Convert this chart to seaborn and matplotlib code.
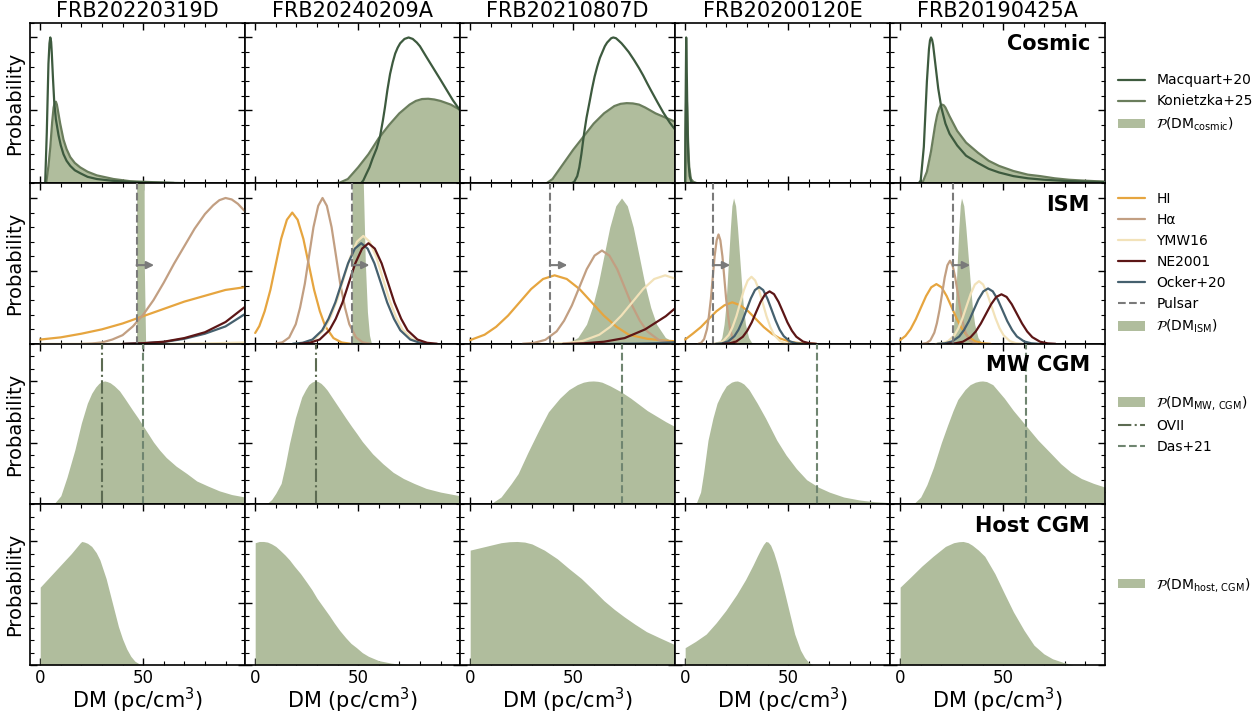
import matplotlib
matplotlib.use("Agg")
import matplotlib.pyplot as plt
import seaborn as sns
from matplotlib.ticker import MultipleLocator
from matplotlib.lines import Line2D
from matplotlib.patches import Patch

# FRB columns
FRBS = ['FRB20220319D', 'FRB20240209A', 'FRB20210807D', 'FRB20200120E', 'FRB20190425A']
ROW_NAMES = ['Cosmic', 'ISM', 'MW CGM', 'Host CGM']

# ---- Cosmic row (Macquart+20 line, Konietzka+25 line + filled P(DM_cosmic)) ----
MAC_X = [
    [2.4, 3.2, 4.0, 4.5, 4.9, 5.3, 5.6, 6.2, 6.8, 7.6, 8.9, 10, 11.3, 12.8, 14.6, 16.8, 19.4, 23, 27.5, 35, 43.7, 55, 70],
    [48, 51.3, 52.5, 53.8, 55.5, 57, 59, 60.6, 62, 63, 64.2, 65.5, 66.8, 68, 69.2, 70.4, 72.5, 74.5, 76.5, 78.5,
     80, 83, 86.5, 90, 93, 96, 99.5],
    [49, 50.5, 52, 53, 54, 55.3, 56.5, 58, 59.2, 60.4, 61.7, 63, 64.2, 65.4, 66.5, 67.5, 68.5, 69.5, 70.8, 72,
     73.5, 75, 77, 79.6, 82, 84, 86, 87.7, 91, 93.8, 97, 100],
    [0, 0.2, 0.5, 0.8, 1.2, 1.6, 2.2, 3, 4],
    [9, 10, 11.5, 13, 14, 14.5, 15, 15.5, 16, 17, 18.5, 20, 22, 24, 27.7, 32, 37.8, 43, 48, 55, 62, 70, 80, 90, 100],
]
MAC_Y = [
    [0, 0.35, 0.82, 0.96, 1.0, 0.97, 0.9, 0.72, 0.56, 0.44, 0.33, 0.26, 0.2, 0.155, 0.12, 0.09, 0.07, 0.045, 0.03, 0.018, 0.01, 0.005, 0.002],
    [0, 0, 0.02, 0.06, 0.11, 0.17, 0.24, 0.32, 0.43, 0.52, 0.64, 0.75, 0.83, 0.89, 0.93, 0.96, 0.99, 1.0, 0.99, 0.965,
     0.94, 0.87, 0.79, 0.71, 0.64, 0.57, 0.5],
    [0, 0.01, 0.05, 0.11, 0.2, 0.34, 0.45, 0.56, 0.65, 0.73, 0.8, 0.86, 0.9, 0.94, 0.965, 0.98, 0.995, 1.0, 0.995, 0.98,
     0.96, 0.935, 0.9, 0.845, 0.79, 0.74, 0.685, 0.64, 0.555, 0.485, 0.415, 0.36],
    [0, 0.5, 1.0, 0.75, 0.35, 0.15, 0.05, 0.01, 0],
    [0, 0.02, 0.25, 0.7, 0.92, 0.98, 1.0, 0.985, 0.95, 0.83, 0.65, 0.52, 0.41, 0.34, 0.26, 0.19, 0.14, 0.1, 0.075, 0.05, 0.035, 0.025, 0.017, 0.012, 0.009],
]
KON_X = [
    [2.9, 4, 4.9, 5.8, 6.5, 7.0, 7.6, 8.1, 8.6, 9.7, 11.3, 12.8, 14.6, 16.8, 19.4, 23, 27.5, 35.6, 43.7, 51.8, 65],
    [38, 41, 45, 50, 55, 60, 65, 70, 75, 78, 81, 84, 87, 90, 95, 100],
    [35, 37, 40, 45, 50, 55, 60, 65, 70, 73, 76, 79, 82, 85, 90, 95, 100],
    [0, 0.2, 0.6, 1, 1.5, 2, 2.8, 4, 6],
    [10, 11, 13, 15, 17, 18, 19, 19.7, 20.4, 21.2, 22, 24, 27.7, 32, 37.8, 43, 48, 55, 62, 68, 75, 82, 88, 95, 100],
]
KON_Y = [
    [0, 0.12, 0.25, 0.42, 0.52, 0.55, 0.56, 0.54, 0.5, 0.41, 0.3, 0.235, 0.18, 0.14, 0.11, 0.08, 0.055, 0.03, 0.015, 0.01, 0.003],
    [0, 0.005, 0.03, 0.11, 0.2, 0.31, 0.4, 0.48, 0.54, 0.565, 0.578, 0.58, 0.575, 0.565, 0.54, 0.5],
    [0, 0, 0.03, 0.13, 0.23, 0.32, 0.41, 0.48, 0.53, 0.545, 0.55, 0.548, 0.54, 0.52, 0.48, 0.45, 0.42],
    [0, 0.35, 0.66, 0.5, 0.25, 0.11, 0.03, 0.01, 0],
    [0, 0.01, 0.08, 0.22, 0.4, 0.47, 0.515, 0.535, 0.54, 0.535, 0.52, 0.46, 0.36, 0.28, 0.21, 0.155, 0.12, 0.085, 0.06, 0.05, 0.035, 0.025, 0.02, 0.015, 0.012],
]

# ---- ISM row ----
HI_X = [
    [0, 10, 20, 30, 40, 50, 60, 70, 80, 90, 100],
    [0, 2, 4.6, 7.4, 10, 12.6, 15.4, 18, 20.6, 23.4, 26, 28.6, 31.4, 34, 38, 42, 46],
    [0, 7, 12.6, 18.4, 24, 29.6, 35.4, 41, 46.9, 53.1, 59, 64.9, 71.1, 77, 86, 95, 100],
    [0, 3.7, 7.6, 11.4, 15.2, 19.1, 22.9, 26.7, 30.6, 34.4, 38.2, 42.1, 45.9, 51.7, 57.4, 63.1],
    [0, 2.6, 5.1, 7.6, 10.1, 12.6, 15.1, 17.6, 20.1, 22.6, 25.1, 27.6, 30.1, 32.6, 36.4, 40.1, 43.9],
]
HI_Y = [
    [0.03, 0.045, 0.07, 0.10, 0.14, 0.19, 0.24, 0.29, 0.33, 0.37, 0.39],
    [0.075, 0.122, 0.224, 0.371, 0.546, 0.72, 0.851, 0.9, 0.851, 0.72, 0.546, 0.371, 0.224, 0.122, 0.04, 0.01, 0.002],
    [0.026, 0.063, 0.117, 0.194, 0.285, 0.376, 0.445, 0.47, 0.445, 0.376, 0.285, 0.194, 0.117, 0.063, 0.035, 0.022, 0.018],
    [0.03, 0.07, 0.115, 0.17, 0.224, 0.265, 0.285, 0.265, 0.224, 0.17, 0.115, 0.07, 0.038, 0.012, 0.003, 0.0006],
    [0.026, 0.055, 0.102, 0.169, 0.249, 0.328, 0.388, 0.41, 0.388, 0.328, 0.249, 0.169, 0.102, 0.055, 0.018, 0.0045, 0.0008],
]
HA_X = [
    [20, 25, 30, 35, 40, 45, 50, 55, 60, 65, 70, 75, 80, 84, 87, 90, 93, 96, 100],
    [9.9, 13.2, 16.5, 19.7, 21.8, 24.1, 26.2, 28.3, 30.6, 32.7, 34.8, 37.1, 39.2, 41.3, 43.6, 45.7, 49, 52.2, 55.5],
    [25.5, 31, 36.5, 42, 45.6, 49.4, 53, 56.6, 60.4, 64, 67.6, 71.4, 75, 78.6, 82.4, 86, 91.5, 97, 100],
    [6.4, 7.8, 9.2, 10.6, 11.5, 12.5, 13.4, 14.3, 15.3, 16.2, 17.1, 18.1, 19, 19.9, 20.9, 21.8, 23.2, 24.6, 26],
    [10.9, 12.8, 14.7, 16.6, 17.85, 19.15, 20.4, 21.65, 22.95, 24.2, 25.45, 26.75, 28, 29.25, 30.55, 31.8, 33.7, 35.6, 37.5],
]
HA_Y = [
    [0, 0.003, 0.01, 0.03, 0.06, 0.12, 0.2, 0.3, 0.42, 0.55, 0.67, 0.79, 0.89, 0.95, 0.985, 1.0, 0.99, 0.96, 0.9],
    [0.002, 0.011, 0.044, 0.135, 0.249, 0.412, 0.607, 0.8, 0.946, 1.0, 0.946, 0.8, 0.607, 0.412, 0.249, 0.135, 0.044, 0.011, 0.002],
    [0.0013, 0.007, 0.028, 0.086, 0.159, 0.264, 0.388, 0.512, 0.605, 0.64, 0.605, 0.512, 0.388, 0.264, 0.159, 0.086, 0.028, 0.007, 0.003],
    [0.0015, 0.008, 0.033, 0.101, 0.187, 0.309, 0.455, 0.6, 0.71, 0.75, 0.71, 0.6, 0.455, 0.309, 0.187, 0.101, 0.033, 0.008, 0.0015],
    [0.0011, 0.006, 0.025, 0.077, 0.142, 0.235, 0.346, 0.456, 0.539, 0.57, 0.539, 0.456, 0.346, 0.235, 0.142, 0.077, 0.025, 0.006, 0.0011],
]
YMW_X = [
    [0, 60, 80, 100],
    [19.3, 24, 28.8, 33.5, 36.6, 39.9, 43, 46.1, 49.4, 52.5, 55.6, 58.9, 62, 65.1, 68.4, 71.5, 76.3, 81, 85.8],
    [38.7, 46.7, 54.7, 62.7, 68, 73.4, 78.7, 84, 89.4, 94.7, 100],
    [13, 15.7, 18.5, 21.2, 23, 24.9, 26.7, 28.5, 30.4, 32.2, 34, 35.9, 37.7, 39.5, 41.4, 43.2, 46, 48.7, 51.5],
    [17.3, 20.3, 23.3, 26.3, 28.3, 30.3, 32.3, 34.3, 36.3, 38.3, 40.3, 42.3, 44.3, 46.3, 48.3, 50.3, 53.3, 56.3, 59.3],
]
YMW_Y = [
    [0, 0, 0.003, 0.01],
    [0.0015, 0.008, 0.033, 0.1, 0.184, 0.305, 0.449, 0.592, 0.7, 0.74, 0.7, 0.592, 0.449, 0.305, 0.184, 0.1, 0.033, 0.008, 0.0015],
    [0.0009, 0.005, 0.021, 0.063, 0.117, 0.194, 0.285, 0.376, 0.445, 0.47, 0.445],
    [0.0009, 0.005, 0.02, 0.062, 0.115, 0.19, 0.279, 0.368, 0.435, 0.46, 0.435, 0.368, 0.279, 0.19, 0.115, 0.062, 0.02, 0.005, 0.0009],
    [0.0009, 0.0047, 0.019, 0.058, 0.107, 0.177, 0.261, 0.344, 0.407, 0.43, 0.407, 0.344, 0.261, 0.177, 0.107, 0.058, 0.019, 0.0047, 0.0009],
]
NE_X = [
    [40, 50, 60, 70, 80, 90, 100],
    [21.8, 26.5, 31.3, 36, 39.1, 42.4, 45.5, 48.6, 51.9, 55, 58.1, 61.4, 64.5, 67.6, 70.9, 74, 78.8, 83.5, 88.3],
    [45, 55, 65, 75, 85, 95, 100],
    [18.25, 21.5, 24.75, 28, 30.14, 32.35, 34.5, 36.64, 38.85, 41, 43.15, 45.36, 47.5, 49.65, 51.86, 54, 57.25, 60.5, 63.75],
    [22.95, 26.7, 30.45, 34.2, 36.7, 39.2, 41.7, 44.2, 46.7, 49.2, 51.7, 54.2, 56.7, 59.2, 61.7, 64.2, 67.95, 71.7, 75.45],
]
NE_Y = [
    [0, 0.005, 0.015, 0.04, 0.08, 0.15, 0.26],
    [0.0014, 0.0076, 0.03, 0.093, 0.172, 0.284, 0.419, 0.552, 0.653, 0.69, 0.653, 0.552, 0.419, 0.284, 0.172, 0.093, 0.03, 0.0076, 0.0014],
    [0, 0.004, 0.015, 0.04, 0.1, 0.19, 0.25],
    [0.0007, 0.004, 0.016, 0.049, 0.09, 0.148, 0.219, 0.288, 0.341, 0.36, 0.341, 0.288, 0.219, 0.148, 0.09, 0.049, 0.016, 0.004, 0.0007],
    [0.0007, 0.0037, 0.015, 0.046, 0.085, 0.14, 0.206, 0.272, 0.322, 0.34, 0.322, 0.272, 0.206, 0.14, 0.085, 0.046, 0.015, 0.0037, 0.0007],
]
OCK_X = [
    [40, 50, 60, 70, 80, 90, 100],
    [18.3, 23, 27.8, 32.5, 35.6, 38.9, 42, 45.1, 48.4, 51.5, 54.6, 57.9, 61, 64.1, 67.4, 70.5, 75.3, 80, 84.8],
    [60, 80, 90, 100],
    [14.9, 17.9, 20.9, 23.9, 25.9, 27.9, 29.9, 31.9, 33.9, 35.9, 37.9, 39.9, 41.9, 43.9, 45.9, 47.9, 50.9, 53.9, 56.9],
    [18.2, 21.7, 25.2, 28.7, 31, 33.4, 35.7, 38, 40.4, 42.7, 45, 47.4, 49.7, 52, 54.4, 56.7, 60.2, 63.7, 67.2],
]
OCK_Y = [
    [0, 0.005, 0.013, 0.035, 0.07, 0.12, 0.21],
    [0.0014, 0.0076, 0.03, 0.093, 0.172, 0.284, 0.419, 0.552, 0.653, 0.69, 0.653, 0.552, 0.419, 0.284, 0.172, 0.093, 0.03, 0.0076, 0.0014],
    [0, 0.002, 0.005, 0.012],
    [0.0008, 0.0043, 0.017, 0.053, 0.097, 0.161, 0.237, 0.312, 0.369, 0.39, 0.369, 0.312, 0.237, 0.161, 0.097, 0.053, 0.017, 0.0043, 0.0008],
    [0.0008, 0.0042, 0.017, 0.051, 0.095, 0.157, 0.231, 0.304, 0.36, 0.38, 0.36, 0.304, 0.231, 0.157, 0.095, 0.051, 0.017, 0.0042, 0.0008],
]
ISMF_X = [
    [46.8, 46.9, 50.0, 50.6, 51.2],
    [47.0, 47.1, 51.5, 52.5, 53.5, 54.5, 55.5, 56.5],
    [43.8, 48, 52.3, 56.5, 59.3, 62.2, 65, 67.8, 70.7, 73.5, 76.3, 79.2, 82, 84.8, 87.7, 90.5, 94.8, 99, 100],
    [15.5, 16.6, 17.8, 18.9, 19.7, 20.4, 21.2, 22, 22.7, 23.5, 24.5, 25.4, 26.4, 27.4, 28.3, 29.3, 30.8, 32.2, 33.7],
    [25.5, 25.6, 26.0, 26.6, 27.3, 27.9, 28.5, 29.2, 29.8, 30.9, 31.9, 33, 34.1, 35.1, 36.2, 37.8, 39.4, 41],
]
ISMF_Y = [
    [0, 3, 3, 0.5, 0],
    [0, 3, 3, 1.1, 0.55, 0.22, 0.06, 0],
    [0.002, 0.011, 0.044, 0.135, 0.249, 0.412, 0.607, 0.8, 0.946, 1.0, 0.946, 0.8, 0.607, 0.412, 0.249, 0.135, 0.044, 0.011, 0.008],
    [0.002, 0.011, 0.044, 0.135, 0.249, 0.412, 0.607, 0.8, 0.946, 1.0, 0.946, 0.8, 0.607, 0.412, 0.249, 0.135, 0.044, 0.011, 0.002],
    [0, 0.078, 0.135, 0.243, 0.42, 0.607, 0.79, 0.95, 1.0, 0.946, 0.8, 0.607, 0.412, 0.249, 0.135, 0.044, 0.011, 0.002],
]
PULSAR = [46.8, 47.0, 38.7, 13.4, 25.5]

# ---- MW CGM row ----
MW_X = [
    [5, 7, 10, 13, 16.8, 20, 22.9, 25, 26.9, 28.5, 30, 31.3, 32.5, 34, 36, 38.5, 41, 45, 47.5, 50,
     52.5, 55, 58, 61.2, 66, 71.2, 76, 81.3, 87, 93, 99.5],
    [4, 5.6, 8, 10, 12.6, 14.5, 16.6, 19.5, 22.6, 24.5, 26, 27.5, 29, 30.5, 32, 33.5, 35, 36.8, 41, 44,
     46.9, 49.5, 52, 57, 62, 67, 72, 77.2, 83, 90, 99.5],
    [8, 10, 15, 20, 23.3, 28, 33.3, 38, 43.5, 48, 52, 55, 57.5, 59.8, 62, 64, 68, 73.5, 78, 82, 86, 90, 95, 99.5],
    [3.5, 5.4, 7.5, 9, 11.1, 13.5, 15.5, 17.8, 20, 22.5, 24, 25.4, 27, 28.5, 31, 35, 39, 44.5, 49, 54,
     59, 64.7, 70, 77, 85, 92, 99.5],
    [4, 6.6, 10, 13, 16.2, 20, 23, 25.7, 28, 31.5, 34, 36.5, 38.5, 40, 42, 45, 50.6, 55, 61, 67,
     73.4, 78, 83, 88, 94, 99.5],
]
MW_Y = [
    [0, 0.01, 0.07, 0.22, 0.44, 0.66, 0.82, 0.9, 0.95, 0.98, 0.995, 1.0, 0.995, 0.985, 0.96, 0.92, 0.86, 0.76, 0.7, 0.635,
     0.57, 0.505, 0.44, 0.38, 0.31, 0.25, 0.19, 0.15, 0.11, 0.08, 0.06],
    [0, 0.005, 0.04, 0.09, 0.17, 0.31, 0.49, 0.7, 0.87, 0.93, 0.97, 0.99, 1.0, 0.995, 0.98, 0.955, 0.925, 0.88, 0.775, 0.7,
     0.63, 0.57, 0.51, 0.41, 0.33, 0.26, 0.21, 0.17, 0.13, 0.1, 0.07],
    [0, 0.005, 0.06, 0.17, 0.25, 0.42, 0.6, 0.75, 0.86, 0.93, 0.97, 0.99, 0.998, 1.0, 0.997, 0.99, 0.96, 0.91, 0.86, 0.81, 0.76, 0.72, 0.67, 0.63],
    [0, 0.01, 0.1, 0.26, 0.52, 0.7, 0.82, 0.9, 0.96, 0.99, 0.998, 1.0, 0.99, 0.975, 0.93, 0.82, 0.7, 0.52, 0.4, 0.29,
     0.2, 0.14, 0.1, 0.06, 0.035, 0.022, 0.015],
    [0, 0.005, 0.06, 0.16, 0.3, 0.5, 0.64, 0.76, 0.85, 0.93, 0.97, 0.99, 0.998, 1.0, 0.995, 0.97, 0.86, 0.76, 0.64, 0.52,
     0.41, 0.33, 0.26, 0.21, 0.17, 0.14],
]
OVII = [30.0, 29.6, None, None, None]
DAS21 = [49.7, None, 73.5, 64.0, 61.0]

# ---- Host CGM row ----
HOST_X = [
    [0, 5, 10, 15, 17, 18.5, 19.5, 20.2, 21.5, 23, 25, 27.2, 29, 30, 32, 34, 36, 38, 40, 42, 44, 46, 48, 50],
    [0, 2, 4, 6, 8, 10, 12, 14.5, 16.7, 19, 22, 25, 27.5, 30, 33, 36, 38.4, 41, 44, 46.5, 49.2, 52, 55, 60, 66, 71, 78],
    [0, 5, 10, 15, 19, 22.8, 26.5, 30, 36, 42.3, 48, 54, 59.6, 65, 70, 74.8, 80, 85.6, 92, 98.6, 100],
    [0, 5, 10.2, 15, 19.7, 25, 29.3, 33, 35, 36.5, 38, 39.2, 40.3, 41.5, 43, 44.5, 46, 48.4, 51, 53.2, 56, 58, 60, 62],
    [0, 5, 10.5, 16, 22, 26, 28.5, 30.6, 33, 35, 38, 41.1, 46, 50.6, 55, 60.2, 65, 69.8, 74, 79.3, 84],
]
HOST_Y = [
    [0.63, 0.72, 0.81, 0.9, 0.94, 0.97, 0.99, 1.0, 0.995, 0.985, 0.96, 0.91, 0.85, 0.8, 0.7, 0.57, 0.44, 0.31, 0.21, 0.13, 0.07, 0.03, 0.01, 0],
    [0.99, 1.0, 1.0, 0.995, 0.98, 0.96, 0.93, 0.89, 0.85, 0.8, 0.74, 0.67, 0.61, 0.54, 0.47, 0.4, 0.34, 0.28, 0.22, 0.175, 0.14, 0.1, 0.07, 0.035, 0.015, 0.005, 0],
    [0.93, 0.95, 0.97, 0.99, 0.998, 1.0, 0.995, 0.98, 0.93, 0.86, 0.78, 0.7, 0.61, 0.52, 0.45, 0.39, 0.33, 0.27, 0.22, 0.17, 0.16],
    [0.14, 0.19, 0.25, 0.34, 0.44, 0.57, 0.69, 0.81, 0.88, 0.93, 0.975, 1.0, 0.995, 0.97, 0.91, 0.83, 0.74, 0.58, 0.4, 0.25, 0.12, 0.06, 0.02, 0],
    [0.63, 0.71, 0.8, 0.88, 0.96, 0.99, 0.998, 1.0, 0.99, 0.97, 0.93, 0.88, 0.74, 0.58, 0.43, 0.28, 0.16, 0.09, 0.05, 0.02, 0],
]

# colours
MAC_C = '#3d5a3e'
KON_C = '#6a7d5c'
FILL_C = '#b0bd9d'
HI_C = '#e6a53f'
HA_C = '#c29f82'
YMW_C = '#f2e2b9'
NE_C = '#5c1616'
OCK_C = '#45606e'
PSR_C = '#7a7a7a'
OVII_C = '#5c6b52'
DAS_C = '#6f8570'

sns.set_style('ticks')
plt.rcParams['font.family'] = ['DejaVu Sans']
plt.rcParams['mathtext.fontset'] = 'dejavusans'
for key in ['text.color', 'axes.labelcolor', 'xtick.color', 'ytick.color']:
    plt.rcParams[key] = 'black'


def draw(ax, x, y, color, ls='-', lw=1.6, z=3):
    sns.lineplot(x=x, y=y, ax=ax, color=color, linestyle=ls, lw=lw,
                 estimator=None, sort=False, legend=False, zorder=z)


fig, axes = plt.subplots(4, 5, figsize=(12.55, 7.15), dpi=100, sharex=True)
fig.subplots_adjust(left=0.024, right=0.8805, top=0.968, bottom=0.07, wspace=0, hspace=0)

YTOP = [1.1, 1.1, 1.3, 1.3]

for c in range(5):
    # cosmic
    ax = axes[0, c]
    ax.fill_between(KON_X[c], KON_Y[c], color=FILL_C, lw=0, zorder=1)
    draw(ax, KON_X[c], KON_Y[c], KON_C, z=2)
    draw(ax, MAC_X[c], MAC_Y[c], MAC_C, z=3)

    # ISM
    ax = axes[1, c]
    ax.fill_between(ISMF_X[c], ISMF_Y[c], color=FILL_C, lw=0, zorder=1)
    draw(ax, HI_X[c], HI_Y[c], HI_C)
    draw(ax, HA_X[c], HA_Y[c], HA_C)
    draw(ax, YMW_X[c], YMW_Y[c], YMW_C)
    draw(ax, OCK_X[c], OCK_Y[c], OCK_C)
    draw(ax, NE_X[c], NE_Y[c], NE_C)
    ax.axvline(PULSAR[c], color=PSR_C, ls='--', lw=1.5, zorder=4)
    ax.annotate('', xy=(PULSAR[c] + 8.5, 0.54), xytext=(PULSAR[c], 0.54),
                arrowprops=dict(arrowstyle='-|>', color=PSR_C, lw=1.5,
                                mutation_scale=11, shrinkA=0, shrinkB=0), zorder=5)

    # MW CGM
    ax = axes[2, c]
    ax.fill_between(MW_X[c], MW_Y[c], color=FILL_C, lw=0, zorder=1)
    if OVII[c] is not None:
        ax.axvline(OVII[c], color=OVII_C, ls='-.', lw=1.5, zorder=3)
    if DAS21[c] is not None:
        ax.axvline(DAS21[c], color=DAS_C, ls='--', lw=1.5, zorder=3)

    # host CGM
    ax = axes[3, c]
    ax.fill_between(HOST_X[c], HOST_Y[c], color=FILL_C, lw=0, zorder=1)

    axes[0, c].set_title(FRBS[c], fontsize=15, pad=4)

for r in range(4):
    for c in range(5):
        ax = axes[r, c]
        ax.set_xlim(-4.9, 99.5)
        ax.set_ylim(0, YTOP[r])
        ax.xaxis.set_major_locator(MultipleLocator(50))
        ax.xaxis.set_minor_locator(MultipleLocator(10))
        ax.yaxis.set_major_locator(MultipleLocator(0.5))
        ax.yaxis.set_minor_locator(MultipleLocator(0.1))
        ax.tick_params(which='both', direction='in', top=True, right=True,
                       labelleft=False, labelsize=12, pad=3)
        ax.tick_params(which='major', length=5, width=1)
        ax.tick_params(which='minor', length=3, width=0.8)
        for s in ax.spines.values():
            s.set_linewidth(1.2)
            s.set_color('black')
        ax.set_ylabel('')
        ax.set_xlabel('')
        if r == 3:
            ax.set_xlabel('DM (pc/cm$^3$)', fontsize=15, labelpad=-1)
        if c == 0:
            ax.set_ylabel('Probability', fontsize=14, labelpad=4)
    axes[r, 4].text(0.93, 0.93, ROW_NAMES[r], transform=axes[r, 4].transAxes,
                    ha='right', va='top', fontsize=15, fontweight='bold')

# legends on the right of the last column
leg_kw = dict(loc='center left', bbox_to_anchor=(1.0, 0.5), frameon=False,
              fontsize=10, handlelength=2.0)
h0 = [Line2D([], [], color=MAC_C, lw=1.6), Line2D([], [], color=KON_C, lw=1.6),
      Patch(facecolor=FILL_C, edgecolor='none')]
axes[0, 4].legend(h0, ['Macquart+20', 'Konietzka+25',
                       r'$\mathcal{P}(\mathrm{DM}_{\mathrm{cosmic}})$'], **leg_kw)
h1 = [Line2D([], [], color=HI_C, lw=1.6), Line2D([], [], color=HA_C, lw=1.6),
      Line2D([], [], color=YMW_C, lw=1.6), Line2D([], [], color=NE_C, lw=1.6),
      Line2D([], [], color=OCK_C, lw=1.6), Line2D([], [], color=PSR_C, lw=1.5, ls='--'),
      Patch(facecolor=FILL_C, edgecolor='none')]
axes[1, 4].legend(h1, ['HI', 'Hα', 'YMW16', 'NE2001', 'Ocker+20', 'Pulsar',
                       r'$\mathcal{P}(\mathrm{DM}_{\mathrm{ISM}})$'], **leg_kw)
h2 = [Patch(facecolor=FILL_C, edgecolor='none'),
      Line2D([], [], color=OVII_C, lw=1.5, ls='-.'),
      Line2D([], [], color=DAS_C, lw=1.5, ls='--')]
axes[2, 4].legend(h2, [r'$\mathcal{P}(\mathrm{DM}_{\mathrm{MW,\,CGM}})$', 'OVII', 'Das+21'], **leg_kw)
h3 = [Patch(facecolor=FILL_C, edgecolor='none')]
axes[3, 4].legend(h3, [r'$\mathcal{P}(\mathrm{DM}_{\mathrm{host,\,CGM}})$'], **leg_kw)

fig.savefig('out.png', dpi=100)
